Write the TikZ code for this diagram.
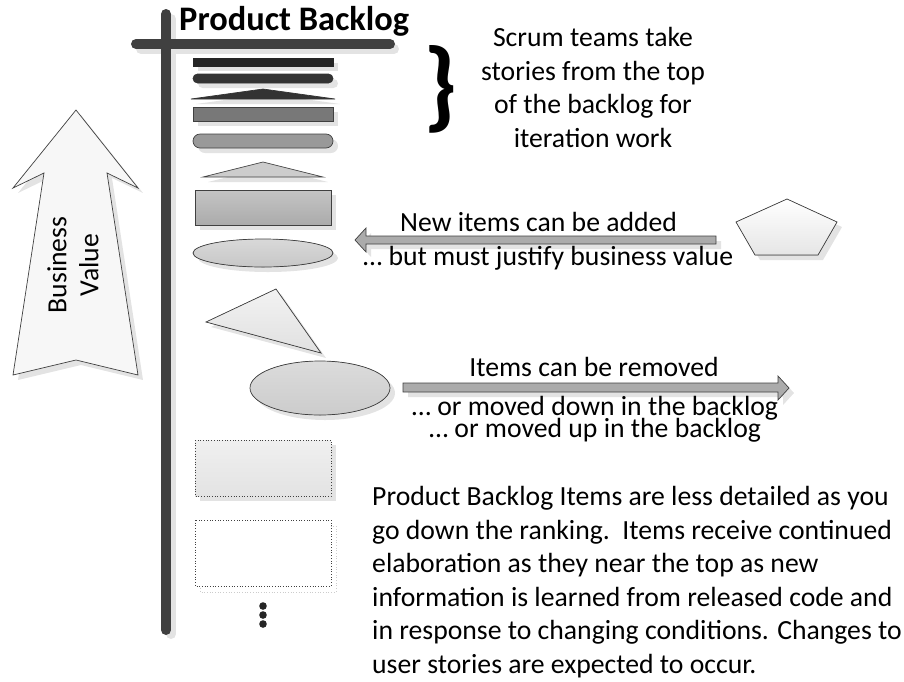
\documentclass[tikz,border=0pt]{standalone}
\usepackage{fontspec}
\setmainfont{Carlito}
\usetikzlibrary{shadows}
\definecolor{ink}{HTML}{404040}
\definecolor{shadowgray}{HTML}{E3E3E3}
\tikzset{
  dshadow/.style={drop shadow={shadow xshift=5pt, shadow yshift=-5pt, fill=shadowgray, opacity=1}},
  item/.style={draw=ink, line width=0.7pt, dshadow},
  blockarrow/.style={draw=ink, line width=0.7pt, fill=black!33, dshadow},
  txt/.style={font=\fontsize{27.7}{33.5}\selectfont, inner sep=0pt},
  bar/.style={line width=10pt, line cap=round},
}
\begin{document}
\begin{tikzpicture}[x=1pt,y=-1pt]
\useasboundingbox (0,0) rectangle (904,681);

% the backlog post and its cross bar
\draw[bar, shadowgray] (171,19) -- (171,634);
\draw[bar, shadowgray] (141,49) -- (394,49);
\draw[bar, ink] (166,14) -- (166,630);
\draw[bar, ink] (136,44) -- (390,44);
\node[font=\bfseries\fontsize{34.4}{34}\selectfont, anchor=base west, inner sep=0pt] (title) at (179,30) {Product Backlog};

% backlog items, most detailed at the top
\filldraw[item, fill=black!85, draw=black!85] (193,58) rectangle (333,66);
\filldraw[item, fill=black!80, draw=black!80, rounded corners=4.5pt] (193,74) rectangle (333,83);
\filldraw[item, fill=black!80, draw=black!80] (191,99) -- (263,89) -- (335,99) -- cycle;
\filldraw[item, fill=black!53] (193,107) rectangle (333,121);
\filldraw[item, fill=black!40, rounded corners=7pt] (193,134) rectangle (333,148);
\filldraw[item, fill=black!20] (203,177) -- (263,162) -- (323,177) -- cycle;
\filldraw[item, top color=black!23, bottom color=black!33] (195,190) rectangle (331,225);
\filldraw[item, top color=black!15, bottom color=black!22] (263,253) ellipse [x radius=70pt, y radius=14pt];
\filldraw[item, top color=black!5, bottom color=black!12] (206,322) -- (276,289) -- (321,353) -- cycle;
\filldraw[item, top color=black!14, bottom color=black!20] (320,388) ellipse [x radius=70pt, y radius=27pt];
\filldraw[item, dotted, top color=black!6, bottom color=black!11] (195,440) rectangle (331,496);
\draw[dotted, black!20, line width=0.7pt] (200,526) rectangle (336,592);
\filldraw[dotted, draw=ink, fill=white, line width=0.7pt] (195,520) rectangle (331,586);
\fill[black!85] (263,606) circle [radius=3.8pt] (263,615) circle [radius=3.8pt] (263,624) circle [radius=3.8pt];

% business value arrow
\filldraw[item, fill=black!3] (76,110) -- (138,188) -- (107,173) -- (138,375) -- (76,360)
  -- (13,375) -- (44,173) -- (13,188) -- cycle;
\node[txt, rotate=90, align=center, font=\fontsize{27.7}{32}\selectfont] (value) at (73,265) {Business\\Value};

% team brace and note (multi-line nodes are anchored at their last baseline)
\node[font=\bfseries\fontsize{100}{100}\selectfont, inner sep=0pt] (brace) at (441,89) {\}};
\node[txt, align=center, anchor=base] (scrum) at (593,147)
  {Scrum teams take\\stories from the top\\of the backlog for\\iteration work};

% new items come in
\filldraw[item, top color=white, bottom color=black!10] (787,199) -- (837,222) -- (818,255)
  -- (755,255) -- (736,222) -- cycle;
\filldraw[blockarrow] (355,240) -- (366,228) -- (366,236) -- (716,236) -- (716,244)
  -- (366,244) -- (366,252) -- cycle;
\node[txt, anchor=base west] (added) at (400,231) {New items can be added};
\node[txt, anchor=base west] (justify) at (363,265) {… but must justify business value};

% items move out or around
\filldraw[blockarrow] (403,383) -- (778,383) -- (778,376) -- (789,388) -- (778,400)
  -- (778,392) -- (403,392) -- cycle;
\node[txt, anchor=base] (removed) at (594,376) {Items can be removed};
\node[txt, anchor=base] (down) at (595,415) {… or moved down in the backlog};
\node[txt, anchor=base] (up) at (595,437) {… or moved up in the backlog};

% closing paragraph
\node[txt, anchor=base west, align=left] (para) at (372,673)
  {Product Backlog Items are less detailed as you\\
   go down the ranking.\ \ Items receive continued\\
   elaboration as they near the top as new\\
   information is learned from released code and\\
   in response to changing conditions. Changes to\\
   user stories are expected to occur.};
\end{tikzpicture}
\end{document}
